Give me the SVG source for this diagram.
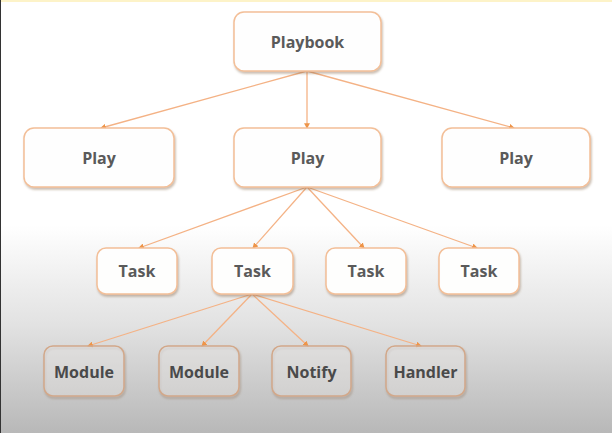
<svg xmlns="http://www.w3.org/2000/svg" width="612" height="433" viewBox="0 0 612 433">
<defs>
<linearGradient id="bg" x1="0" y1="0" x2="0" y2="1">
<stop offset="0" stop-color="#ffffff"/>
<stop offset="0.52" stop-color="#ffffff"/>
<stop offset="0.75" stop-color="#e2e2e2"/>
<stop offset="1" stop-color="#b8b8b8"/>
</linearGradient>
<filter id="sh" x="-10%" y="-10%" width="125%" height="130%">
<feDropShadow dx="1" dy="2" stdDeviation="1.2" flood-color="#8a6a50" flood-opacity="0.45"/>
</filter>
<marker id="ah" viewBox="0 0 6 6" refX="5" refY="3" markerWidth="4.5" markerHeight="4.5" orient="auto">
<path d="M0,0 L6,3 L0,6 z" fill="#ee9448"/>
</marker>
<style>
.n rect{fill:#ffffff;fill-opacity:0.97;stroke:#f3bf98;stroke-width:1.5;filter:url(#sh)}
.g rect{fill:#ffffff;fill-opacity:0.25;stroke:#d2a88a}
text{font-family:"Open Sans","DejaVu Sans",sans-serif;font-weight:bold;font-size:16px;fill:#5a5a5a;text-anchor:middle;dominant-baseline:central}
.g text{fill:#4a4a4a}
.c line{stroke:#f4b285;stroke-width:1.3;marker-end:url(#ah)}
</style>
</defs>
<rect width="612" height="433" fill="url(#bg)"/>
<rect width="612" height="2" fill="#fdf3c8"/>
<line x1="0.5" y1="0" x2="0.5" y2="433" stroke="#333" stroke-width="1"/>
<g class="c">
<line x1="307" y1="71" x2="101" y2="128"/>
<line x1="307" y1="71" x2="307" y2="128"/>
<line x1="307" y1="71" x2="514" y2="128"/>
<line x1="307" y1="187" x2="139" y2="248"/>
<line x1="307" y1="187" x2="253" y2="248"/>
<line x1="307" y1="187" x2="364" y2="248"/>
<line x1="307" y1="187" x2="477" y2="248"/>
<line x1="252" y1="294" x2="88" y2="346"/>
<line x1="252" y1="294" x2="202" y2="346"/>
<line x1="252" y1="294" x2="308" y2="346"/>
<line x1="252" y1="294" x2="421" y2="346"/>
</g>
<g id="playbook" class="n"><rect x="234" y="12" width="147" height="59" rx="10"/><text x="307.5" y="42">Playbook</text></g>
<g id="play1" class="n"><rect x="24" y="128" width="150" height="59" rx="10"/><text x="99" y="158">Play</text></g>
<g id="play2" class="n"><rect x="234" y="128" width="147" height="59" rx="10"/><text x="307.5" y="158">Play</text></g>
<g id="play3" class="n"><rect x="442" y="128" width="148" height="59" rx="10"/><text x="516" y="158">Play</text></g>
<g id="task1" class="n"><rect x="97" y="248" width="80" height="46" rx="9"/><text x="137" y="271">Task</text></g>
<g id="task2" class="n"><rect x="212" y="248" width="81" height="46" rx="9"/><text x="252.5" y="271">Task</text></g>
<g id="task3" class="n"><rect x="326" y="248" width="80" height="46" rx="9"/><text x="366" y="271">Task</text></g>
<g id="task4" class="n"><rect x="439" y="248" width="80" height="46" rx="9"/><text x="479" y="271">Task</text></g>
<g id="module1" class="n g"><rect x="44" y="346" width="80" height="50" rx="9"/><text x="84" y="372">Module</text></g>
<g id="module2" class="n g"><rect x="159" y="346" width="80" height="50" rx="9"/><text x="199" y="372">Module</text></g>
<g id="notify" class="n g"><rect x="272" y="346" width="79" height="50" rx="9"/><text x="311.5" y="372">Notify</text></g>
<g id="handler" class="n g"><rect x="386" y="346" width="79" height="50" rx="9"/><text x="425.5" y="372">Handler</text></g>
</svg>
